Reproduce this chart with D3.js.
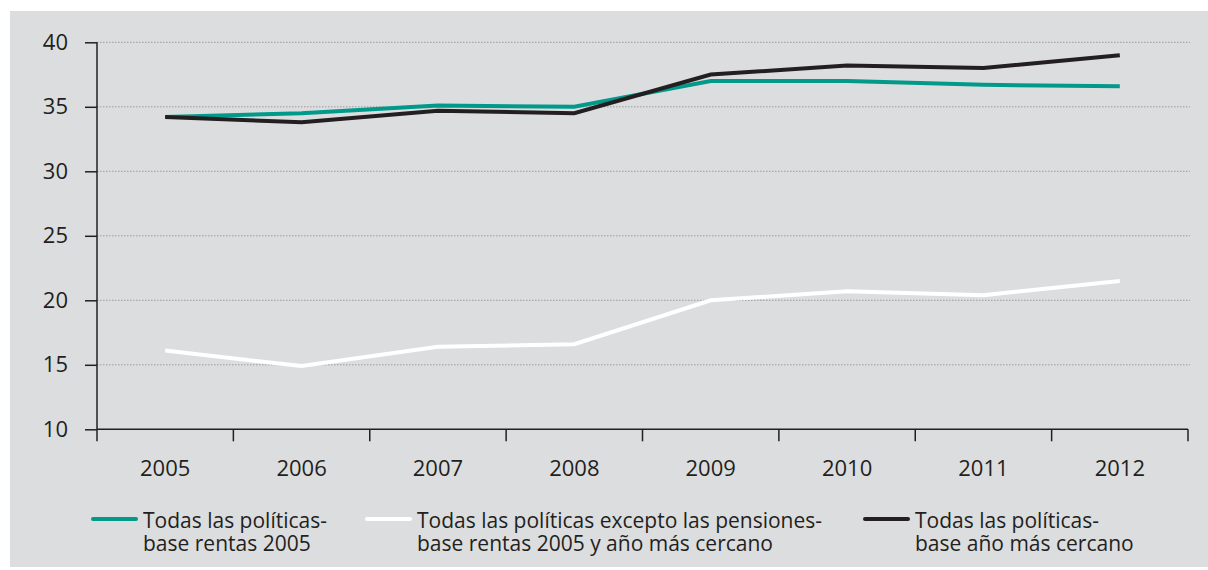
<!DOCTYPE html>
<html><head><meta charset="utf-8">
<script src="https://cdn.jsdelivr.net/npm/d3@7"></script>
<style>body{margin:0;background:#fff;} svg{display:block;} text{font-family:"Open Sans",sans-serif;fill:#231f20;}</style>
</head><body>
<svg id="c" width="1208" height="570"></svg>
<script>
const years = ["2005","2006","2007","2008","2009","2010","2011","2012"];
const yTicks = [10,15,20,25,30,35,40];
const seriesTeal = [34.2,34.5,35.1,35.0,37.0,37.0,36.7,36.6];
const seriesWhite = [16.1,14.9,16.4,16.6,20.0,20.7,20.4,21.5];
const seriesBlack = [34.2,33.8,34.7,34.5,37.5,38.2,38.0,39.0];
const legendLabels = [
  ["Todas las políticas-","base rentas 2005"],
  ["Todas las políticas excepto las pensiones-","base rentas 2005 y año más cercano"],
  ["Todas las políticas-","base año más cercano"]
];
const colors = ["#00998a","#ffffff","#231f20"];

const svg = d3.select("#c");
svg.append("rect").attr("x",10).attr("y",11).attr("width",1198).attr("height",556).attr("fill","#dcdddf");

const x = d3.scaleBand().domain(years).range([97,1188]);
const y = d3.scaleLinear().domain([10,40]).range([429.3,42.3]);

// grid
svg.append("g").selectAll("line").data(yTicks.filter(d=>d>10)).join("line")
  .attr("x1",97).attr("x2",1190).attr("y1",d=>y(d)).attr("y2",d=>y(d))
  .attr("stroke","#9a9a9a").attr("stroke-width",1).attr("stroke-dasharray","1.5,1.5");

// y axis
const ya = svg.append("g").attr("transform","translate(97,0)")
  .call(d3.axisLeft(y).tickValues(yTicks).tickSize(12).tickPadding(17).tickFormat(d3.format("d")));
ya.select(".domain").attr("stroke","#231f20").attr("stroke-width",1.5).attr("d",`M0,${y(40)}V${y(10)}`);
ya.selectAll(".tick line").attr("stroke","#231f20").attr("stroke-width",1.5);
ya.selectAll(".tick text").attr("font-size",22).attr("fill","#231f20").attr("font-family","Open Sans");

// x axis
const xa = svg.append("g").attr("transform",`translate(0,${y(10)})`)
  .call(d3.axisBottom(x).tickSize(0).tickPadding(0));
xa.select(".domain").attr("stroke","#231f20").attr("stroke-width",1.5).attr("d",`M97,0H1188`);
xa.selectAll(".tick text").attr("font-size",22).attr("fill","#231f20").attr("font-family","Open Sans").attr("dy",0).attr("y",47);
const bounds = years.map(d=>x(d)).concat([x(years[years.length-1])+x.bandwidth()]);
svg.append("g").selectAll("line").data(bounds).join("line")
  .attr("x1",d=>d).attr("x2",d=>d).attr("y1",y(10)).attr("y2",y(10)+12)
  .attr("stroke","#231f20").attr("stroke-width",1.5);

// lines
const line = d3.line().x((d,i)=>x(years[i])+x.bandwidth()/2).y(d=>y(d));
[seriesTeal,seriesWhite,seriesBlack].forEach((s,i)=>{
  svg.append("path").datum(s).attr("d",line).attr("fill","none")
    .attr("stroke",colors[i]).attr("stroke-width",4).attr("stroke-linejoin","miter");
});

// legend
const legX = [[93,143],[367,417],[865,915]];
legendLabels.forEach((lab,i)=>{
  const g = svg.append("g");
  g.append("line").attr("x1",legX[i][0]).attr("x2",legX[i][1]-7).attr("y1",519).attr("y2",519)
    .attr("stroke",colors[i]).attr("stroke-width",4).attr("stroke-linecap","round");
  const t = g.append("text").attr("x",legX[i][1]).attr("y",528).attr("font-size",21);
  lab.forEach((s,j)=>{
    t.append("tspan").attr("x",legX[i][1]).attr("dy",j===0?0:22.5).text(s);
  });
});
</script>
</body></html>
